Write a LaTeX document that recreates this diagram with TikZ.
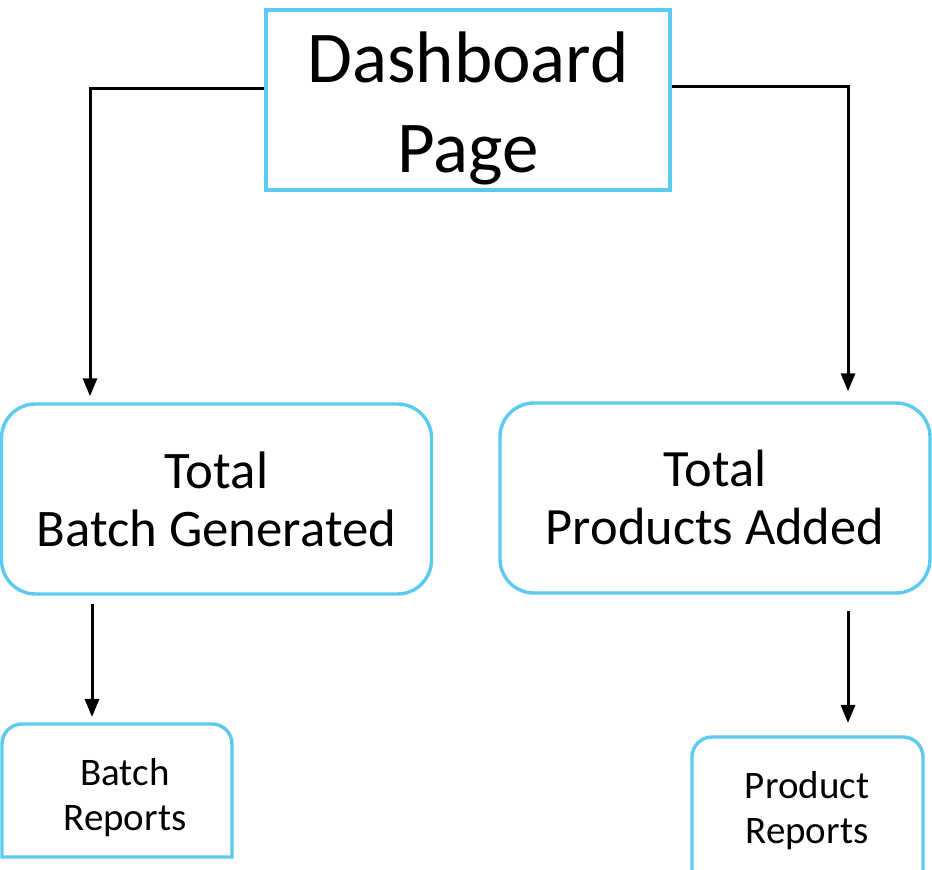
\documentclass[tikz,border=0pt]{standalone}
\usepackage{fontspec}
\setmainfont{Carlito}
\usetikzlibrary{positioning, arrows.meta}

\definecolor{boxblue}{RGB}{92,202,238}

\tikzset{
  box/.style={draw=boxblue, line width=1.7pt, align=center, inner sep=0pt},
  bigbox/.style={box, rounded corners=17pt, minimum width=215pt, minimum height=95pt},
  frame/.style={draw=boxblue, line width=1.7pt},
  arr/.style={draw, line width=1.5pt, -{Triangle[width=7pt,length=9pt]}},
}

\begin{document}
\begin{tikzpicture}[x=0.5pt, y=-0.5pt]
  \useasboundingbox (0,0) rectangle (932,870);
  \clip (0,0) rectangle (932,870);

  % top
  \node [box, minimum width=202pt, minimum height=90pt,
         font=\fontsize{36.5}{45}\selectfont] (dash) at (468,100)
        {\rule{0pt}{34pt}Dashboard\\Page};

  % middle
  \node [bigbox, font=\fontsize{26.4}{29}\selectfont] (totbatch) at (216.5,499)
        {Total\\Batch Generated};
  \node [bigbox, font=\fontsize{26.2}{29}\selectfont] (totprod) at (715,498)
        {Total\\Products Added};

  % bottom
  \node [align=center, font=\fontsize{19.5}{22.5}\selectfont] (batchrep) at (125,798)
        {Batch\\Reports};
  \node [align=center, font=\fontsize{19.5}{22.5}\selectfont] (prodrep) at (807,811)
        {Product\\Reports};
  \draw [frame] (2,857) [rounded corners=10pt] -- (2,724) -- (232,724)
        [sharp corners] -- (232,857) -- cycle;
  \draw [frame] (692,900) [rounded corners=10pt] -- (692,737) -- (923,737)
        -- (923,900);

  \coordinate (lk) at (90,89);
  \coordinate (rk) at (848,87);
  \coordinate (batchtop) at (92,724);
  \coordinate (prodtop) at (848,737);

  \draw [arr, shorten >=3pt] (dash.west |- lk) -- (lk) -- (lk |- totbatch.north);
  \draw [arr, shorten >=5pt] (dash.east |- rk) -- (rk) -- (rk |- totprod.north);
  \draw [arr, shorten <=4pt, shorten >=3.5pt] (totbatch.south -| batchtop) -- (batchtop);
  \draw [arr, shorten <=8pt, shorten >=7pt] (totprod.south -| prodtop) -- (prodtop);
\end{tikzpicture}
\end{document}
